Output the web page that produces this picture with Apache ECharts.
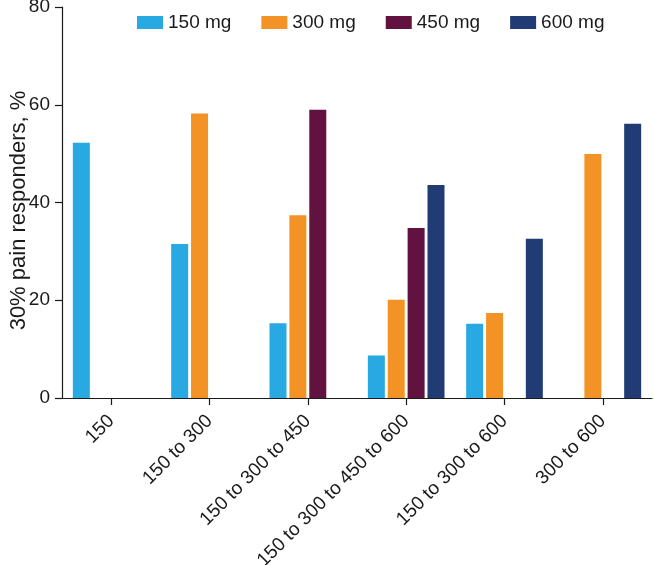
<!DOCTYPE html>
<html>
<head>
<meta charset="utf-8">
<script src="https://cdn.jsdelivr.net/npm/echarts@6/dist/echarts.min.js"></script>
<style>
  html, body { margin: 0; padding: 0; background: #fff; }
  #chart { width: 654px; height: 565px; }
</style>
</head>
<body>
<div id="chart"></div>
<script>
const categories = ["150", "150 to 300", "150 to 300 to 450", "150 to 300 to 450 to 600", "150 to 300 to 600", "300 to 600"];
const seriesNames = ["150 mg", "300 mg", "450 mg", "600 mg"];
const values150 = [52.2, 31.5, 15.3, 8.7, 15.2, null];
const values300 = [null, 58.2, 37.4, 20.1, 17.4, 49.9];
const values450 = [null, null, 59.0, 34.8, null, null];
const values600 = [null, null, null, 43.6, 32.6, 56.1];
const yTicks = [0, 20, 40, 60, 80];
const colors = ["#29A9E1", "#F39325", "#62123F", "#213B74"];

const font = "'Liberation Sans', Arial, sans-serif";
const chart = echarts.init(document.getElementById('chart'), null, { renderer: 'canvas' });
const allValues = [values150, values300, values450, values600];

chart.setOption({
  animation: false,
  backgroundColor: '#ffffff',
  textStyle: { fontFamily: font, color: '#1a1a1a' },
  legend: {
    top: 13,
    left: 137,
    padding: 0,
    icon: 'rect',
    itemWidth: 26,
    itemHeight: 13,
    itemGap: 30,
    textStyle: { fontSize: 19, fontFamily: font, color: '#1a1a1a' },
    data: seriesNames
  },
  grid: { left: 62, right: 2, top: 7, bottom: 167, containLabel: false, outerBoundsMode: 'none' },
  xAxis: {
    type: 'category',
    data: categories,
    axisLine: { show: true, lineStyle: { color: '#1a1a1a', width: 1.2 } },
    axisTick: { show: true, alignWithLabel: true, length: 7, lineStyle: { color: '#1a1a1a', width: 1.2 } },
    axisLabel: { interval: 0, rotate: 45, fontSize: 19, margin: 20, color: '#1a1a1a', fontFamily: font }
  },
  yAxis: {
    type: 'value',
    min: yTicks[0],
    max: yTicks[yTicks.length - 1],
    interval: 20,
    name: '30% pain responders, %',
    nameLocation: 'middle',
    nameGap: 32,
    nameMoveOverlap: false,
    nameTextStyle: { fontSize: 22, color: '#1a1a1a', fontFamily: font, padding: [0, 16, 0, 0] },
    axisLine: { show: true, lineStyle: { color: '#1a1a1a', width: 1.2 } },
    axisTick: { show: true, length: 7, lineStyle: { color: '#1a1a1a', width: 1.2 } },
    axisLabel: { fontSize: 19, margin: 12, color: '#1a1a1a', fontFamily: font },
    splitLine: { show: false }
  },
  series: seriesNames.map((name, i) => ({
    name: name,
    type: 'bar',
    data: allValues[i],
    barWidth: 17,
    barGap: '17%',
    itemStyle: { color: colors[i] }
  }))
});
</script>
</body>
</html>
